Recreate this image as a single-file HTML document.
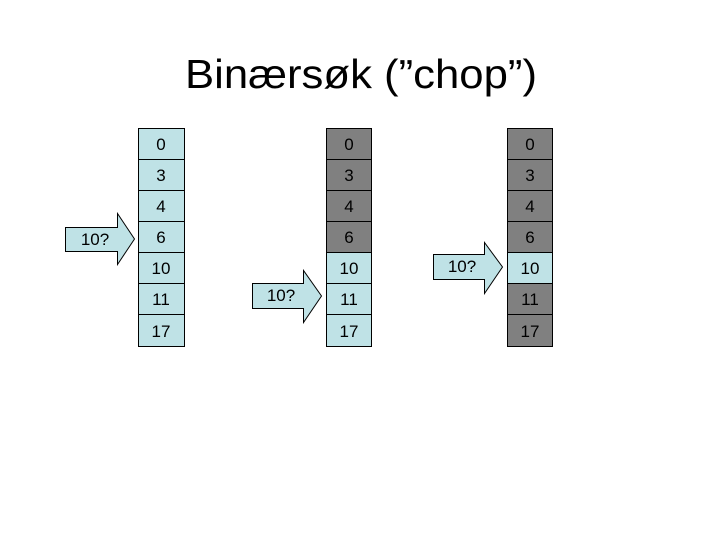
<!DOCTYPE html>
<html><head><meta charset="utf-8"><style>body{margin:0;background:#fff}svg{display:block}</style></head><body>
<svg width="720" height="540" xmlns="http://www.w3.org/2000/svg" font-family="Liberation Sans, Arial, sans-serif">
<rect width="720" height="540" fill="#fff"/>
<text x="361" y="88" font-size="41" text-anchor="middle" textLength="352" lengthAdjust="spacingAndGlyphs">Binærsøk (”chop”)</text>
<g stroke="#000" stroke-width="1" font-size="17" text-anchor="middle">
<!-- column 1 -->
<g fill="#bfe2e6">
<rect x="138.5" y="128.5" width="46" height="31"/><rect x="138.5" y="159.5" width="46" height="31"/><rect x="138.5" y="190.5" width="46" height="31"/><rect x="138.5" y="221.5" width="46" height="31"/><rect x="138.5" y="252.5" width="46" height="31"/><rect x="138.5" y="283.5" width="46" height="31"/><rect x="138.5" y="314.5" width="46" height="32"/>
</g>
<!-- column 2 -->
<g fill="#808080">
<rect x="326.5" y="128.5" width="45" height="31"/><rect x="326.5" y="159.5" width="45" height="31"/><rect x="326.5" y="190.5" width="45" height="31"/><rect x="326.5" y="221.5" width="45" height="31"/>
</g>
<g fill="#bfe2e6">
<rect x="326.5" y="252.5" width="45" height="31"/><rect x="326.5" y="283.5" width="45" height="31"/><rect x="326.5" y="314.5" width="45" height="32"/>
</g>
<!-- column 3 -->
<g fill="#808080">
<rect x="507.5" y="128.5" width="45" height="31"/><rect x="507.5" y="159.5" width="45" height="31"/><rect x="507.5" y="190.5" width="45" height="31"/><rect x="507.5" y="221.5" width="45" height="31"/>
<rect x="507.5" y="283.5" width="45" height="31"/><rect x="507.5" y="314.5" width="45" height="32"/>
</g>
<rect x="507.5" y="252.5" width="45" height="31" fill="#bfe2e6"/>
<!-- arrows -->
<g fill="#bfe2e6">
<polygon points="65.5,227.5 117.5,227.5 117.5,213.5 134.5,239 117.5,264.5 117.5,251.5 65.5,251.5"/>
<polygon points="252.5,283.5 303.5,283.5 303.5,270.5 321.5,296 303.5,322.5 303.5,308.5 252.5,308.5"/>
<polygon points="433.5,254.5 484.5,254.5 484.5,242.5 502.5,267 484.5,293.5 484.5,279.5 433.5,279.5"/>
</g>
</g>
<g font-size="17" text-anchor="middle" fill="#000">
<text x="161" y="150">0</text><text x="161" y="181">3</text><text x="161" y="212">4</text><text x="161" y="243">6</text><text x="161" y="274">10</text><text x="161" y="305">11</text><text x="161" y="337">17</text>
<text x="349" y="150">0</text><text x="349" y="181">3</text><text x="349" y="212">4</text><text x="349" y="243">6</text><text x="349" y="274">10</text><text x="349" y="305">11</text><text x="349" y="337">17</text>
<text x="530" y="150">0</text><text x="530" y="181">3</text><text x="530" y="212">4</text><text x="530" y="243">6</text><text x="530" y="274">10</text><text x="530" y="305">11</text><text x="530" y="337">17</text>
<text x="95" y="245">10?</text>
<text x="281" y="301">10?</text>
<text x="462" y="272">10?</text>
</g>
</svg>
</body></html>
